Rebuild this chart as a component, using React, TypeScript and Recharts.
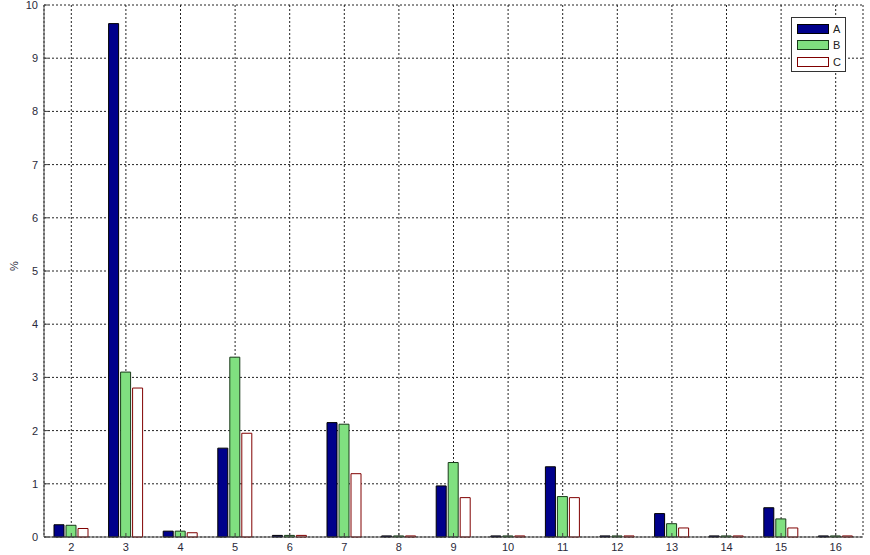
import React from "react";
import { BarChart, Bar, XAxis, YAxis, CartesianGrid, Legend } from "recharts";

const categories = ["2", "3", "4", "5", "6", "7", "8", "9", "10", "11", "12", "13", "14", "15", "16"];
const seriesA = [0.23, 9.65, 0.11, 1.67, 0.03, 2.15, 0.02, 0.96, 0.02, 1.32, 0.02, 0.44, 0.02, 0.55, 0.02];
const seriesB = [0.22, 3.1, 0.11, 3.38, 0.03, 2.12, 0.02, 1.4, 0.02, 0.76, 0.02, 0.25, 0.02, 0.34, 0.02];
const seriesC = [0.16, 2.8, 0.08, 1.95, 0.03, 1.19, 0.02, 0.74, 0.02, 0.74, 0.02, 0.17, 0.02, 0.17, 0.02];
const yTicks = [0, 1, 2, 3, 4, 5, 6, 7, 8, 9, 10];
const seriesNames = ["A", "B", "C"];

const data = categories.map((c, i) => ({ cat: c, A: seriesA[i], B: seriesB[i], C: seriesC[i] }));

const styles: Record<string, { fill: string; stroke: string }> = {
  A: { fill: "#00008b", stroke: "#000000" },
  B: { fill: "#80e080", stroke: "#1a3a1a" },
  C: { fill: "#ffffff", stroke: "#800000" },
};

const FONT = "'Liberation Sans', Arial, sans-serif";
const TICK_COLOR = "#2a2a3a";
const FRAME = "#444";

const LegendBox = () => (
  <div
    style={{
      width: 55,
      height: 55,
      border: "1px solid #333",
      background: "#fff",
      boxSizing: "border-box",
      paddingTop: 5,
      fontFamily: FONT,
      fontSize: 11,
      color: "#222",
    }}
  >
    {seriesNames.map((n, i) => (
      <div key={n} style={{ display: "flex", alignItems: "center", height: 11, marginBottom: i < 2 ? 5.5 : 0, paddingLeft: 5 }}>
        <div
          style={{
            width: 32,
            height: 10,
            background: styles[n].fill,
            border: `1px solid ${styles[n].stroke}`,
            boxSizing: "border-box",
          }}
        />
        <span style={{ marginLeft: 4 }}>{n}</span>
      </div>
    ))}
  </div>
);

export default function App() {
  return (
    <div style={{ position: "absolute", left: 0, top: 0, width: 870, height: 555, background: "#fff" }}>
      <BarChart
        width={870}
        height={555}
        data={data}
        margin={{ top: 5, right: 7, bottom: 0, left: 0 }}
        barSize={10}
        barGap={2}
      >
        <CartesianGrid stroke="#222" strokeDasharray="2 2" strokeWidth={1} />
        <XAxis
          dataKey="cat"
          height={18}
          tickSize={-4}
          tickMargin={10}
          axisLine={{ stroke: FRAME }}
          tickLine={{ stroke: FRAME }}
          tick={{ fill: TICK_COLOR, fontSize: 11, fontFamily: FONT }}
          interval={0}
        />
        <XAxis xAxisId="top" dataKey="cat" orientation="top" height={0} tick={false} tickLine={false} axisLine={{ stroke: FRAME }} />
        <YAxis
          width={44}
          domain={[0, 10]}
          ticks={yTicks}
          tickSize={-4}
          tickMargin={10}
          axisLine={{ stroke: FRAME }}
          tickLine={{ stroke: FRAME }}
          tick={{ fill: TICK_COLOR, fontSize: 11, fontFamily: FONT }}
          interval={0}
          label={{ value: "%", angle: -90, position: "insideLeft", offset: 14, fill: TICK_COLOR, fontSize: 11, fontFamily: FONT }}
        />
        <YAxis yAxisId="right" orientation="right" width={0} domain={[0, 10]} tick={false} tickLine={false} axisLine={{ stroke: FRAME }} />
        <Legend
          layout="vertical"
          align="center"
          verticalAlign="middle"
          wrapperStyle={{ left: 791, top: 17, width: 55, right: "auto", bottom: "auto" }}
          content={() => <LegendBox />}
        />
        {seriesNames.map((n) => (
          <Bar key={n} dataKey={n} fill={styles[n].fill} stroke={styles[n].stroke} strokeWidth={1} isAnimationActive={false} />
        ))}
      </BarChart>
    </div>
  );
}
